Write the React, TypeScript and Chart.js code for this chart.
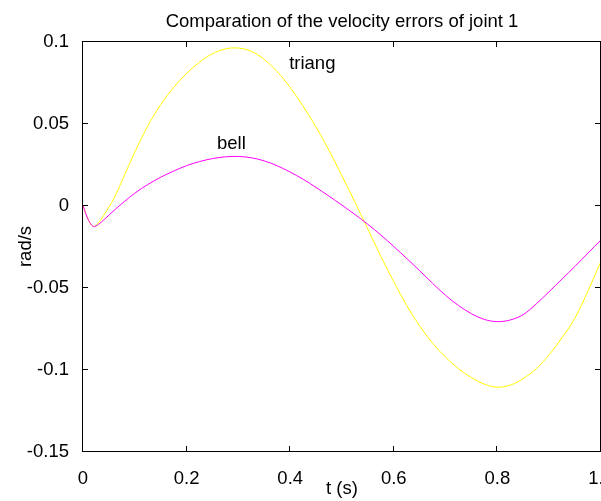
import React, { useEffect, useRef } from "react";
import { Chart, registerables } from "chart.js";

Chart.register(...registerables);

const tValues = [0, 0.01, 0.02, 0.03, 0.04, 0.06, 0.08, 0.1, 0.125, 0.15, 0.175, 0.2, 0.225, 0.25, 0.275, 0.3, 0.325, 0.35, 0.375, 0.4, 0.425, 0.45, 0.475, 0.5, 0.525, 0.55, 0.575, 0.6, 0.625, 0.65, 0.675, 0.7, 0.725, 0.75, 0.775, 0.8, 0.825, 0.85, 0.875, 0.9, 0.925, 0.95, 0.975, 1.0];

const triangValues = [0, -0.0085, -0.0128, -0.0105, -0.006, 0.0045, 0.0185, 0.0325, 0.0485, 0.0615, 0.072, 0.0805, 0.0875, 0.0925, 0.0955, 0.096, 0.094, 0.089, 0.0815, 0.072, 0.0605, 0.0478, 0.0335, 0.018, 0.002, -0.0145, -0.031, -0.0465, -0.061, -0.0735, -0.084, -0.0925, -0.0995, -0.105, -0.109, -0.1108, -0.1095, -0.1055, -0.0995, -0.091, -0.0805, -0.0685, -0.052, -0.034];

const bellValues = [0, -0.0085, -0.0128, -0.0115, -0.0088, -0.003, 0.0025, 0.0075, 0.0128, 0.0172, 0.021, 0.0243, 0.0268, 0.0286, 0.0297, 0.0299, 0.0291, 0.0272, 0.0242, 0.0204, 0.016, 0.011, 0.0057, 0.0002, -0.0055, -0.0115, -0.018, -0.025, -0.0323, -0.0398, -0.0475, -0.0548, -0.061, -0.066, -0.0695, -0.0708, -0.0698, -0.0665, -0.06, -0.0525, -0.0448, -0.037, -0.029, -0.021];

const xTicks = [0, 0.2, 0.4, 0.6, 0.8, 1];
const yTicks = [-0.15, -0.1, -0.05, 0, 0.05, 0.1];
const yTickLabels = ["-0.15", "-0.1", "-0.05", "0", "0.05", "0.1"];

const titleText = "Comparation of the velocity errors of joint 1";
const xLabel = "t (s)";
const yLabel = "rad/s";

const annotationTexts = ["triang", "bell"];
const annotationT = [0.398, 0.2586];
const annotationV = [0.083, 0.0344];

const FONT = '"Liberation Sans", Arial, Helvetica, sans-serif';

function drawFrame(ctx: CanvasRenderingContext2D, chart: any) {
  const area = chart.chartArea;
  const xs = chart.scales.x;
  const ys = chart.scales.y;
  const L = Math.round(Number(area.left)) - 1;
  const R = Math.round(Number(area.right)) - 1;
  const T = Math.floor(Number(area.top));
  const B = Math.floor(Number(area.bottom));
  ctx.save();
  ctx.fillStyle = "#000000";
  ctx.fillRect(L, T, R - L + 1, 1);
  ctx.fillRect(L, B, R - L + 1, 1);
  ctx.fillRect(L, T, 1, B - T + 1);
  ctx.fillRect(R, T, 1, B - T + 1);
  const tl = 5;
  for (let i = 0; i < xTicks.length; i++) {
    const px = Math.round(Number(xs.getPixelForValue(xTicks[i]))) - 1;
    ctx.fillRect(px, B - tl, 1, tl);
    ctx.fillRect(px, T + 1, 1, tl);
  }
  for (let i = 0; i < yTicks.length; i++) {
    const py = Math.floor(Number(ys.getPixelForValue(yTicks[i])));
    ctx.fillRect(L + 1, py, tl, 1);
    ctx.fillRect(R - tl, py, tl, 1);
  }
  ctx.restore();
}

const App: React.FC = () => {
  const canvasRef = useRef<HTMLCanvasElement | null>(null);
  const overlayRef = useRef<HTMLCanvasElement | null>(null);

  useEffect(() => {
    const canvas = canvasRef.current;
    const overlay = overlayRef.current;
    if (!canvas || !overlay) return;
    const decor = {
      id: "matlabText",
      afterDraw(chart: any) {
        const ctx = chart.ctx as CanvasRenderingContext2D;
        const area = chart.chartArea;
        const xs = chart.scales.x;
        const ys = chart.scales.y;
        ctx.save();
        ctx.fillStyle = "#000";
        ctx.textAlign = "center";
        ctx.textBaseline = "alphabetic";
        ctx.font = "18.5px " + FONT;
        ctx.fillText(titleText, (area.left + area.right) / 2, 27);
        ctx.fillText(xLabel, (area.left + area.right) / 2, 494);
        ctx.save();
        ctx.translate(31, (area.top + area.bottom) / 2);
        ctx.rotate(-Math.PI / 2);
        ctx.fillText(yLabel, 0, 0);
        ctx.restore();
        ctx.textAlign = "left";
        annotationTexts.forEach((txt, i) => {
          ctx.fillText(txt, xs.getPixelForValue(annotationT[i]), ys.getPixelForValue(annotationV[i]));
        });
        ctx.restore();
      },
    };
    const chart = new Chart(canvas, {
      type: "line",
      data: {
        datasets: [
          {
            label: "bell",
            data: tValues.map((t, i) => ({ x: t, y: bellValues[i] })),
            borderColor: "#FF00FF",
            borderWidth: 1,
            pointRadius: 0,
            tension: 0.35,
          },
          {
            label: "triang",
            data: tValues.map((t, i) => ({ x: t, y: triangValues[i] })),
            borderColor: "#FFFF00",
            borderWidth: 1,
            pointRadius: 0,
            tension: 0.35,
          },
        ],
      },
      options: {
        animation: false,
        responsive: false,
        maintainAspectRatio: false,
        devicePixelRatio: 1,
        layout: { padding: { top: 41.5, right: 2, left: 0, bottom: 0 } },
        plugins: { legend: { display: false }, tooltip: { enabled: false } },
        scales: {
          x: {
            type: "linear", min: 0, max: 1,
            grid: { display: false },
            border: { display: false },
            afterFit: (scale: any) => { scale.height = 49.5; scale.paddingLeft = 0; scale.paddingRight = 0; },
            afterBuildTicks: (scale: any) => { scale.ticks = xTicks.map((v) => ({ value: v })); },
            ticks: { color: "#000", padding: 8, maxRotation: 0, font: { family: FONT, size: 18.5 } },
          },
          y: {
            type: "linear", min: -0.15, max: 0.1,
            grid: { display: false },
            border: { display: false },
            afterFit: (scale: any) => { scale.width = 83; scale.paddingTop = 0; scale.paddingBottom = 0; },
            afterBuildTicks: (scale: any) => { scale.ticks = yTicks.map((v) => ({ value: v })); },
            ticks: {
              color: "#000", padding: 6, font: { family: FONT, size: 18.5 },
              callback: (_v: any, idx: number) => yTickLabels[idx],
            },
          },
        },
      },
      plugins: [decor],
    });

    const octx = overlay.getContext("2d");
    if (octx) {
      octx.clearRect(0, 0, overlay.width, overlay.height);
      drawFrame(octx, chart);
    }

    return () => {
      chart.destroy();
      if (octx) octx.clearRect(0, 0, overlay.width, overlay.height);
    };
  }, []);

  return (
    <div style={{ position: "fixed", left: 0, top: 0, width: 601, height: 501, overflow: "hidden", background: "#fff" }}>
      <canvas ref={canvasRef} width={603} height={501} style={{ display: "block", position: "absolute", left: 0, top: 0, width: 603, height: 501 }} />
      <canvas ref={overlayRef} width={603} height={501} style={{ display: "block", position: "absolute", left: 0, top: 0, width: 603, height: 501, pointerEvents: "none" }} />
    </div>
  );
};

export default App;
